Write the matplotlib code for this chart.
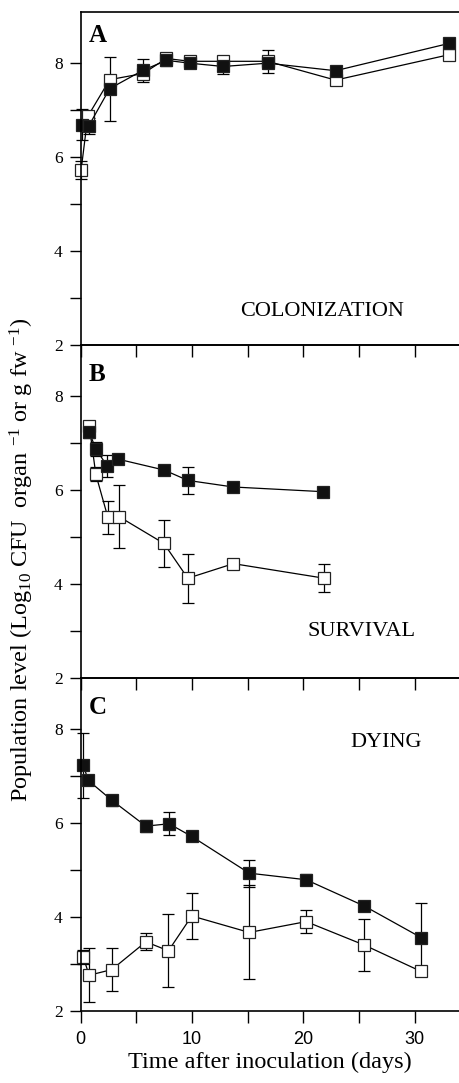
import matplotlib
matplotlib.use("Agg")
import matplotlib.pyplot as plt
import matplotlib.ticker as mtick

plt.rcParams["font.family"] = ["Liberation Serif", "DejaVu Serif"]
plt.rcParams["mathtext.default"] = "regular"

# Panel A - colonization
a_fill_x = [0.1, 0.7, 2.6, 5.6, 7.7, 9.8, 12.8, 16.8, 22.9, 33.1]
a_fill_y = [6.68, 6.65, 7.45, 7.84, 8.05, 7.99, 7.92, 7.99, 7.83, 8.41]
a_fill_e = [0.33, 0.17, 0.68, 0.24, 0.12, 0.0, 0.15, 0.0, 0.0, 0.0]
a_open_x = [0.03, 0.63, 2.6, 5.6, 7.7, 9.8, 12.8, 16.8, 22.9, 33.1]
a_open_y = [5.72, 6.86, 7.64, 7.77, 8.09, 8.03, 8.03, 8.03, 7.63, 8.17]
a_open_e = [0.2, 0.1, 0.0, 0.0, 0.0, 0.0, 0.0, 0.25, 0.0, 0.0]

# Panel B - survival
b_fill_x = [0.77, 1.35, 2.39, 3.38, 7.5, 9.62, 13.7, 21.8]
b_fill_y = [7.22, 6.87, 6.5, 6.65, 6.42, 6.2, 6.06, 5.96]
b_fill_e = [0.12, 0.15, 0.23, 0.08, 0.06, 0.29, 0.06, 0.06]
b_open_x = [0.77, 1.35, 2.43, 3.44, 7.47, 9.62, 13.72, 21.9]
b_open_y = [7.35, 6.33, 5.42, 5.43, 4.86, 4.12, 4.43, 4.12]
b_open_e = [0.08, 0.15, 0.35, 0.67, 0.5, 0.52, 0.08, 0.3]

# Panel C - dying
c_fill_x = [0.23, 0.68, 2.79, 5.85, 7.94, 9.98, 15.14, 20.26, 25.5, 30.6]
c_fill_y = [7.22, 6.9, 6.48, 5.93, 5.98, 5.71, 4.93, 4.79, 4.23, 3.56]
c_fill_e = [0.7, 0.1, 0.12, 0.12, 0.24, 0.08, 0.29, 0.12, 0.05, 0.74]
c_open_x = [0.23, 0.75, 2.79, 5.85, 7.88, 9.98, 15.14, 20.26, 25.5, 30.6]
c_open_y = [3.14, 2.76, 2.88, 3.47, 3.28, 4.02, 3.67, 3.9, 3.4, 2.84]
c_open_e = [0.15, 0.57, 0.45, 0.18, 0.78, 0.48, 1.0, 0.24, 0.56, 0.05]

panels = [
    ("A", "COLONIZATION", (0.639, 0.10), a_fill_x, a_fill_y, a_fill_e, a_open_x, a_open_y, a_open_e),
    ("B", "SURVIVAL", (0.741, 0.14), b_fill_x, b_fill_y, b_fill_e, b_open_x, b_open_y, b_open_e),
    ("C", "DYING", (0.807, 0.806), c_fill_x, c_fill_y, c_fill_e, c_open_x, c_open_y, c_open_e),
]


def draw_series(ax, x, y, e, face):
    ax.errorbar(x, y, yerr=e, color="black", lw=0.9, elinewidth=0.9, capsize=4.2,
                capthick=0.9, marker="s", markersize=8.3, markerfacecolor=face,
                markeredgecolor="#222222", markeredgewidth=0.9, clip_on=False)


fig, axes = plt.subplots(3, 1, figsize=(4.59, 10.83), dpi=100, sharex=True)
fig.subplots_adjust(left=0.176, right=1.0, top=0.989, bottom=0.0665, hspace=0)

for i, (ax, p) in enumerate(zip(axes, panels)):
    letter, label, lpos, fx, fy, fe, ox, oy, oe = p
    ax.patch.set_visible(False)
    draw_series(ax, ox, oy, oe, "white")
    draw_series(ax, fx, fy, fe, "#111111")

    ax.set_xlim(0, 34)
    ax.set_ylim(2, 9.08)
    ax.spines["right"].set_visible(False)
    for s in ["left", "top", "bottom"]:
        ax.spines[s].set_linewidth(1.2)

    ax.yaxis.set_major_locator(mtick.FixedLocator([2, 4, 6, 8]))
    ax.yaxis.set_minor_locator(mtick.FixedLocator([3, 5, 7]))
    ax.tick_params(axis="y", which="both", direction="out", length=8, width=1,
                   labelsize=12.5, pad=5, labelfontfamily="Liberation Serif")

    # bottom ticks point down: into the next panel, or outward on the last one
    ax.xaxis.set_major_locator(mtick.MultipleLocator(10))
    ax.xaxis.set_minor_locator(mtick.MultipleLocator(5))
    ax.tick_params(axis="x", which="both", bottom=True, top=False,
                   direction="out", length=8.5, width=1,
                   labelbottom=(i == 2), labelsize=13, pad=6,
                   labelfontfamily="Liberation Sans")

    ytop = 0.965 if i == 0 else 0.945
    ax.text(0.02, ytop, letter, transform=ax.transAxes, ha="left", va="top",
            fontsize=18, fontweight="bold")
    ax.text(lpos[0], lpos[1], label, transform=ax.transAxes, ha="center",
            va="center", fontsize=16)

axes[2].set_xlabel("Time after inoculation (days)", fontsize=17.5, labelpad=3)

fig.text(22 / 459, 1 - 560 / 1083,
         "Population level (Log$_{10}$ CFU  organ $^{-1}$ or g fw $^{-1}$)",
         rotation=90, ha="center", va="center", fontsize=17.5)

plt.savefig("out.png", dpi=100)
plt.close()
